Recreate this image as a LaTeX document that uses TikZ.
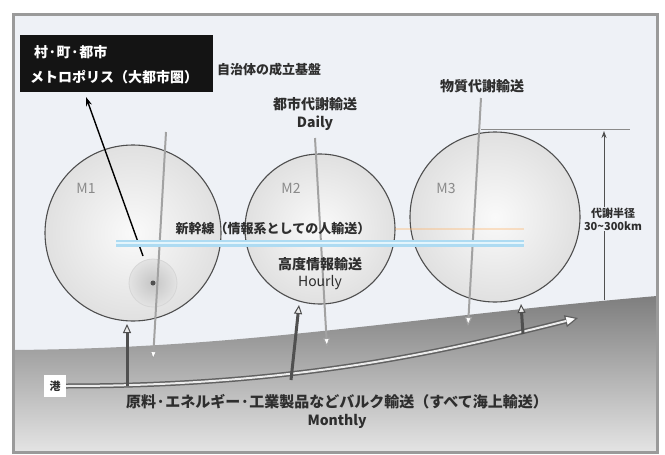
\documentclass[tikz,border=0pt]{standalone}
\usepackage{fontspec}
\setmainfont{Noto Sans CJK JP}
\usetikzlibrary{arrows.meta}
\definecolor{bg}{HTML}{EEF1F6}
\definecolor{framec}{HTML}{9A9A9A}
\definecolor{txt}{HTML}{2E2E2E}
\definecolor{outline}{HTML}{4E4E4E}
\definecolor{bandc}{HTML}{AEDBF2}
\definecolor{bandin}{HTML}{E4F5FC}
\definecolor{hollowc}{HTML}{A2A2A2}
\definecolor{darkarr}{HTML}{505050}
\definecolor{groundtop}{HTML}{7E7E7E}
\definecolor{groundmid}{HTML}{959595}
\definecolor{groundbot}{HTML}{E4E4E4}
\definecolor{mgray}{HTML}{8A8A8A}
\tikzset{
  sphere/.style={circle, draw=outline, line width=1.1pt, shading=radial,
    inner color=white!96!gray, outer color=white!76!gray, inner sep=0},
  lbl/.style={text=txt, font=\bfseries\fontsize{13}{15}\selectfont, inner sep=0},
  biglbl/.style={text=txt, font=\bfseries\fontsize{14}{16}\selectfont, inner sep=0},
  mlbl/.style={text=mgray, font=\fontsize{14}{16}\selectfont, inner sep=0},
  flowdown/.style={draw=hollowc, line width=2pt,
    -{Triangle[open, fill=white, length=9pt, width=7pt, line width=1pt]}},
  flowup/.style={draw=darkarr, line width=3pt,
    -{Triangle[open, fill=white!85!gray, length=9pt, width=8pt, line width=1pt]}},
}
\begin{document}
\begin{tikzpicture}[x=1pt,y=-1pt]
\useasboundingbox (0,0) rectangle (665,455);
% background and frame
\fill[white] (0,0) rectangle (665,455);
\fill[bg] (13,14) rectangle (657,452);
% ground
\shade[top color=groundtop, middle color=groundmid, bottom color=groundbot]
  (13,350) .. controls (250,348) and (400,318) .. (657,296) -- (657,452) -- (13,452) -- cycle;
\draw[framec, line width=3pt] (13,14) rectangle (657,452);

% spheres
\node[sphere, minimum size=176pt] (m1) at (133,233) {};
\node[sphere, minimum size=150pt] (m2) at (320,229) {};
\node[sphere, minimum size=170pt] (m3) at (495,217) {};
% small core inside M1
\node[circle, shading=radial, inner color=white!55!gray, outer color=white!78!gray,
      draw=white!68!gray, line width=0.8pt, minimum size=48pt, inner sep=0] (core) at (153,283) {};
\node[circle, fill=darkarr, minimum size=5pt, inner sep=0] (coredot) at (153,283) {};

% labels of spheres
\node[mlbl] (l1) at (86,188) {M1};
\node[mlbl] (l2) at (291,188) {M2};
\node[mlbl] (l3) at (446,188) {M3};

% top black box
\node[fill=black!92, minimum width=193pt, minimum height=57pt, inner sep=0] (box) at (116.5,63) {};
\node[anchor=west, text=white, font=\bfseries\fontsize{14}{16}\selectfont, inner sep=0] (boxt1) at (34,52) {村·町·都市};
\node[anchor=west, text=white, font=\bfseries\fontsize{14}{16}\selectfont, inner sep=0] (boxt2) at (30,77) {メトロポリス（大都市圏）};
\node[lbl, anchor=west] (base) at (217,70) {自治体の成立基盤};

% top labels
\node[biglbl] (toshi) at (315,104) {都市代謝輸送};
\node[biglbl] (daily) at (315,123) {Daily};
\node[biglbl] (busshitsu) at (482,86) {物質代謝輸送};

% ground double arrow and port
\node[fill=white, minimum size=22pt, inner sep=0, text=txt,
      font=\bfseries\fontsize{11}{12}\selectfont] (port) at (55,386) {港};
\coordinate (gs) at (port.east);
\coordinate (ge) at (578,318);
\draw[draw=darkarr!90, line width=5pt,
      -{Triangle[open, fill=white, length=13pt, width=12pt, line width=1.2pt]}]
  (gs) .. controls (300,386) and (450,350) .. (ge);
\draw[draw=white!85!gray, line width=2pt, shorten >=12pt]
  (gs) .. controls (300,386) and (450,350) .. (ge);

% vertical down flows (gray)
\coordinate (d1a) at (166,132); \coordinate (d1b) at (153,360);
\coordinate (d2a) at (315,138); \coordinate (d2b) at (327,347);
\coordinate (d3a) at (481,98);  \coordinate (d3b) at (468,326);
\draw[flowdown] (d1a) -- (d1b);
\draw[flowdown] (d2a) -- (d2b);
\draw[flowdown] (d3a) -- (d3b);

% vertical up flows (dark)
\coordinate (u1a) at (127,386); \coordinate (u1b) at (127,324);
\coordinate (u2a) at (291,380); \coordinate (u2b) at (299,305);
\coordinate (u3a) at (523,334); \coordinate (u3b) at (521,304);
\draw[flowup] (u1a) -- (u1b);
\draw[flowup] (u2a) -- (u2b);
\draw[flowup] (u3a) -- (u3b);

% black arrow from core to box
\coordinate (ka) at (143,256);
\coordinate (kb) at (86,97);
\draw[black, line width=1.4pt, -{Stealth[length=9pt, width=6pt]}] (ka) -- (kb);

% shinkansen band
\coordinate (bs) at (116,243);
\coordinate (be) at (524,243);
\draw[orange!60, opacity=0.35, line width=2pt] (395,229) -- (524,229);
\draw[bandc, line width=7pt] (bs) -- (be);
\draw[bandin, line width=2pt] (bs) -- (be);
\node[lbl] (shin) at (273,229) {新幹線（情報系としての人輸送）};
\node[biglbl] (kodo) at (320,264) {高度情報輸送};
\node[biglbl, font=\fontsize{14}{16}\selectfont] (hourly) at (320,283) {Hourly};

% dimension
\coordinate (dt1) at (481,129);
\coordinate (dt2) at (630,129);
\draw[mgray, line width=1pt] (dt1) -- (dt2);
\coordinate (da) at (604,300);
\coordinate (db) at (604,131);
\draw[darkarr, line width=1pt, -{Stealth[length=7pt, width=5pt]}] (da) -- (db);
\node[fill=bg, text=txt, align=center, inner sep=1pt,
      font=\bfseries\fontsize{11}{13}\selectfont] (radius) at (613,219) {代謝半径\\30\textasciitilde 300km};

% bottom text
\node[biglbl, font=\bfseries\fontsize{15}{17}\selectfont] (bulk) at (337,402) {原料·エネルギー·工業製品などバルク輸送（すべて海上輸送）};
\node[biglbl] (monthly) at (337,421) {Monthly};
\end{tikzpicture}
\end{document}
